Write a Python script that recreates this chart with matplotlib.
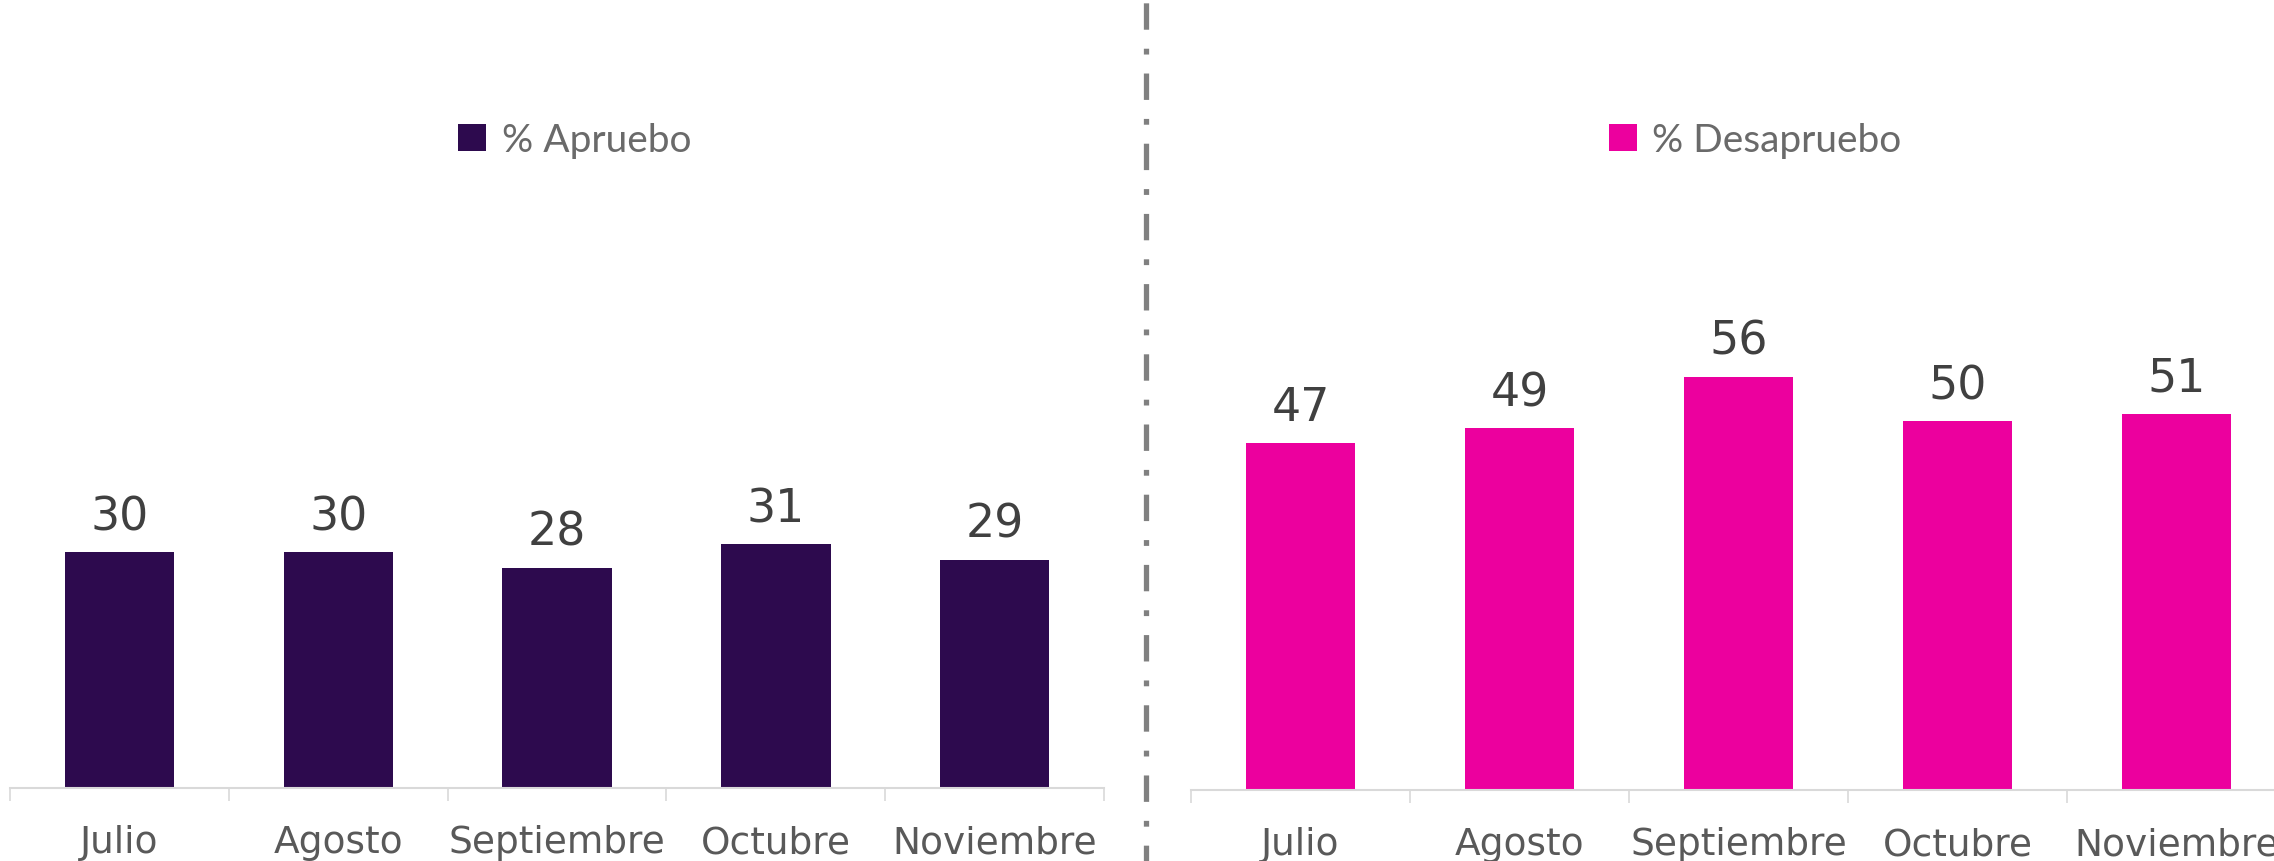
import matplotlib
matplotlib.use("Agg")
import matplotlib.pyplot as plt
from matplotlib.lines import Line2D

# datos
meses = ["Julio", "Agosto", "Septiembre", "Octubre", "Noviembre"]
aprueba = [30, 30, 28, 31, 29]
desaprueba = [47, 49, 56, 50, 51]

W, H = 2274, 862
fig = plt.figure(figsize=(W / 100, H / 100), dpi=100)
fig.patch.set_facecolor("white")


def panel(rect, valores, color, ymax, etiqueta, leg_x):
    ax = fig.add_axes(rect)
    x = list(range(len(meses)))
    bars = ax.bar(x, valores, width=0.5, color=color, label=etiqueta, zorder=2)
    ax.set_xlim(-0.5, len(meses) - 0.5)
    ax.set_ylim(0, ymax)
    for s in ["top", "left", "right"]:
        ax.spines[s].set_visible(False)
    ax.spines["bottom"].set_color("#d9d9d9")
    ax.spines["bottom"].set_linewidth(1.5)
    ax.set_yticks([])
    # separadores entre categorias
    ax.set_xticks([i - 0.5 for i in range(len(meses) + 1)])
    ax.set_xticklabels([])
    ax.tick_params(axis="x", which="major", length=9.4, width=1.2, color="#d9d9d9")
    ax.set_xticks(x, minor=True)
    ax.set_xticklabels(meses, minor=True, fontsize=27, color="#595959")
    ax.tick_params(axis="x", which="minor", length=0, pad=26)
    for b, v in zip(bars, valores):
        ax.annotate(str(v), (b.get_x() + b.get_width() / 2, v),
                    xytext=(0, 16.5), textcoords="offset points",
                    ha="center", va="baseline", fontsize=33, color="#404040")
    ax.legend(loc="center", bbox_to_anchor=(leg_x, 1 - 141 / H),
              bbox_transform=fig.transFigure, frameon=False,
              handlelength=0.72, handleheight=0.72, handletextpad=0.4,
              prop={"family": ["Lato", "DejaVu Sans"], "size": 28},
              labelcolor="#6a6a6a")
    return ax


panel([10 / W, 73 / H, 1094 / W, 789 / H], aprueba, "#2d0a4e", 100.3,
      "% Apruebo", 575 / W)
panel([1191 / W, 71 / H, 1095 / W, 791 / H], desaprueba, "#ec009e", 107.2,
      "% Desapruebo", 1755 / W)

# linea divisoria
fig.add_artist(Line2D([1146 / W, 1146 / W], [0, 1], transform=fig.transFigure,
                      color="#808080", lw=3.8, linestyle=(2, (5, 3.6, 1.1, 3.6))))

fig.savefig("out.png", dpi=100, facecolor="white")
